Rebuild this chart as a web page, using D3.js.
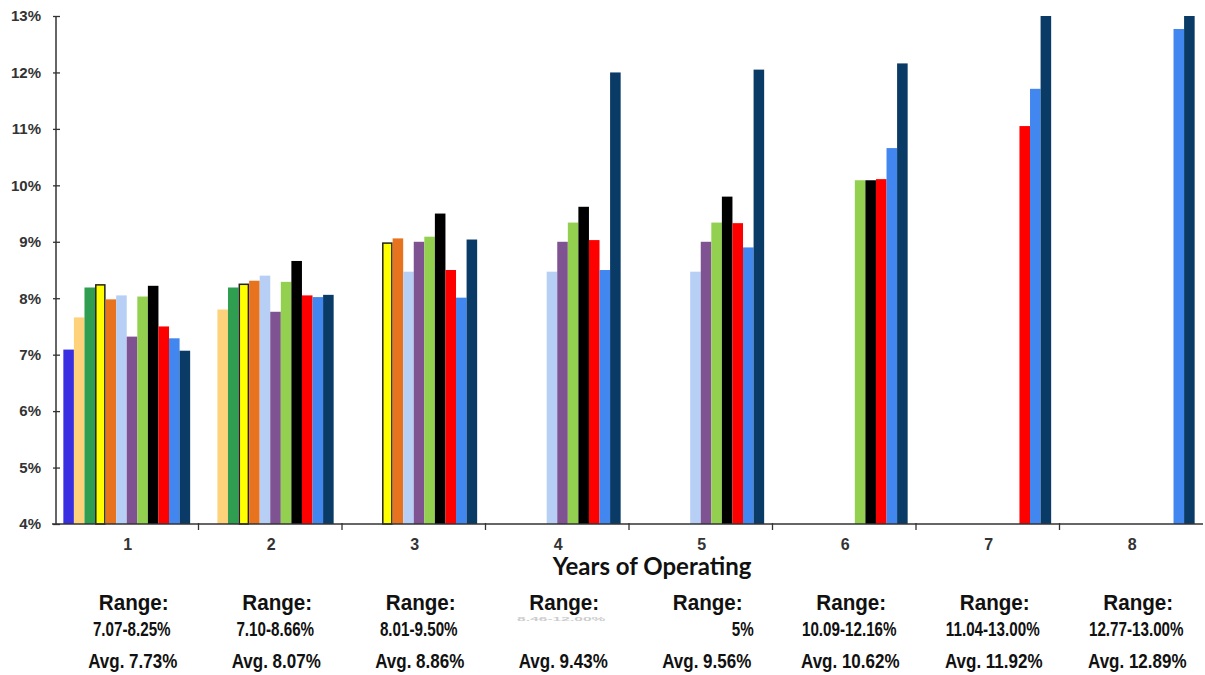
<!DOCTYPE html>
<html><head><meta charset="utf-8">
<script src="https://cdn.jsdelivr.net/npm/d3@7"></script>
<style>body{margin:0;background:#fff}svg{display:block}</style></head>
<body>
<svg id="c" width="1205" height="675"></svg>
<script>
const years = ["1","2","3","4","5","6","7","8"];
const yTicks = [4,5,6,7,8,9,10,11,12,13];
const seriesColors = ["#3a2fe0","#fdd27a","#2f9e50","#ffff00","#e8731f","#b7cff5","#7f5391","#93d050","#000000","#ff0000","#4287ef","#093b66"];
// one array per series, values by year (null = no bar)
const sBlue       = [7.09, null, null, null, null, null, null, null];
const sLightOrange= [7.66, 7.80, null, null, null, null, null, null];
const sGreen      = [8.19, 8.19, null, null, null, null, null, null];
const sYellow     = [8.25, 8.26, 8.99, null, null, null, null, null];
const sOrange     = [7.98, 8.31, 9.06, null, null, null, null, null];
const sLightBlue  = [8.05, 8.40, 8.47, 8.47, 8.47, null, null, null];
const sPurple     = [7.32, 7.76, 9.00, 9.00, 9.00, null, null, null];
const sLightGreen = [8.03, 8.29, 9.09, 9.34, 9.34, 10.09, null, null];
const sBlack      = [8.22, 8.66, 9.50, 9.62, 9.80, 10.09, null, null];
const sRed        = [7.50, 8.05, 8.50, 9.03, 9.33, 10.11, 11.05, null];
const sMedBlue    = [7.29, 8.02, 8.01, 8.50, 8.90, 10.66, 11.71, 12.77];
const sNavy       = [7.07, 8.06, 9.04, 12.00, 12.05, 12.16, 13.00, 13.00];
const allSeries = [sBlue,sLightOrange,sGreen,sYellow,sOrange,sLightBlue,sPurple,sLightGreen,sBlack,sRed,sMedBlue,sNavy];
const rangeLabels = ["7.07-8.25%","7.10-8.66%","8.01-9.50%","8.46-12.00%","5%","10.09-12.16%","11.04-13.00%","12.77-13.00%"];
const avgLabels = ["Avg. 7.73%","Avg. 8.07%","Avg. 8.86%","Avg. 9.43%","Avg. 9.56%","Avg. 10.62%","Avg. 11.92%","Avg. 12.89%"];

const svg = d3.select("#c");
const x0 = d3.scaleBand().domain(years).range([55, 1203]).padding(0);
const x1 = d3.scaleBand().domain(d3.range(allSeries.length)).range([0, x0.bandwidth()]).paddingInner(0).paddingOuter(0.79);
const y = d3.scaleLinear().domain([4, 13]).range([524, 16]);

const bars = [];
allSeries.forEach((arr, si) => arr.forEach((v, yi) => { if (v != null) bars.push({si, yi, v}); }));

svg.append("g").selectAll("rect").data(bars).join("rect")
  .attr("x", d => x0(years[d.yi]) + x1(d.si) + (d.si === 3 ? 0.75 : 0))
  .attr("y", d => y(d.v) + (d.si === 3 ? 0.75 : 0))
  .attr("width", d => x1.bandwidth() - (d.si === 3 ? 1.5 : 0))
  .attr("height", d => y(4) - y(d.v) - (d.si === 3 ? 0.75 : 0))
  .attr("fill", d => seriesColors[d.si])
  .attr("stroke", d => d.si === 3 ? "#222" : "none")
  .attr("stroke-width", 1.5);

// y axis
const yAxis = svg.append("g").attr("transform", "translate(56,0)")
  .call(d3.axisLeft(y).tickValues(yTicks).tickFormat(d => d + "%").tickSize(3).tickPadding(12));
yAxis.select(".domain").attr("stroke", "#333").attr("stroke-width", 1.5).attr("d", "M0,16V524");
yAxis.selectAll(".tick line").attr("stroke", "#333").attr("stroke-width", 1.3).attr("x1", -3).attr("x2", 4);
yAxis.selectAll(".tick text").attr("fill", "#333").style("font-family", "'Liberation Sans', Arial, sans-serif")
  .style("font-size", "15px").style("font-weight", "bold");

// x axis
const xg = svg.append("g").attr("transform", "translate(0,524)");
xg.append("line").attr("x1", 52).attr("x2", 1203).attr("y1", 0).attr("y2", 0).attr("stroke", "#333").attr("stroke-width", 1.5);
xg.selectAll("line.t").data(years.slice(1)).join("line").attr("class", "t")
  .attr("x1", d => x0(d)).attr("x2", d => x0(d)).attr("y1", -1).attr("y2", 6)
  .attr("stroke", "#333").attr("stroke-width", 1.3);
xg.selectAll("text").data(years).join("text")
  .attr("x", d => x0(d) + x0.bandwidth() / 2 + 1).attr("y", 26)
  .attr("text-anchor", "middle").attr("fill", "#333")
  .style("font-family", "'Liberation Sans', Arial, sans-serif").style("font-size", "16px").style("font-weight", "bold")
  .text(d => d);

svg.append("text").attr("x", 652).attr("y", 575).attr("text-anchor", "middle")
  .style("font-family", "Lato, Calibri, sans-serif").style("font-size", "24px").style("font-weight", "bold")
  .attr("fill", "#111").text("Years of Operating");

// Range / Avg annotations
const ff = "'Liberation Sans', Arial, sans-serif";
const ann = svg.append("g");
years.forEach((yr, i) => {
  const cx = x0(yr) + x0.bandwidth() / 2 + 7;
  ann.append("text").attr("transform", `translate(${cx},610) scale(0.96,1)`)
    .attr("text-anchor", "middle").attr("fill", "#111")
    .style("font-family", ff).style("font-size", "21.5px").style("font-weight", "bold").text("Range:");
  const rt = ann.append("text").attr("text-anchor", i === 4 ? "end" : "middle")
    .style("font-family", ff).style("font-weight", "bold").text(rangeLabels[i]);
  if (i === 3) {
    rt.attr("transform", `translate(${cx - 3},621) scale(0.8,0.25)`).attr("fill", "#ccc").style("font-size", "19.5px");
  } else if (i === 4) {
    rt.attr("transform", `translate(${cx + 46},636) scale(0.78,1)`).attr("fill", "#111").style("font-size", "19.5px");
  } else {
    rt.attr("transform", `translate(${cx - 2},636) scale(0.78,1)`).attr("fill", "#111").style("font-size", "19.5px");
  }
  ann.append("text").attr("transform", `translate(${cx - 1},668) scale(0.85,1)`)
    .attr("text-anchor", "middle").attr("fill", "#111")
    .style("font-family", ff).style("font-size", "20px").style("font-weight", "bold").text(avgLabels[i]);
});
</script>
</body></html>
